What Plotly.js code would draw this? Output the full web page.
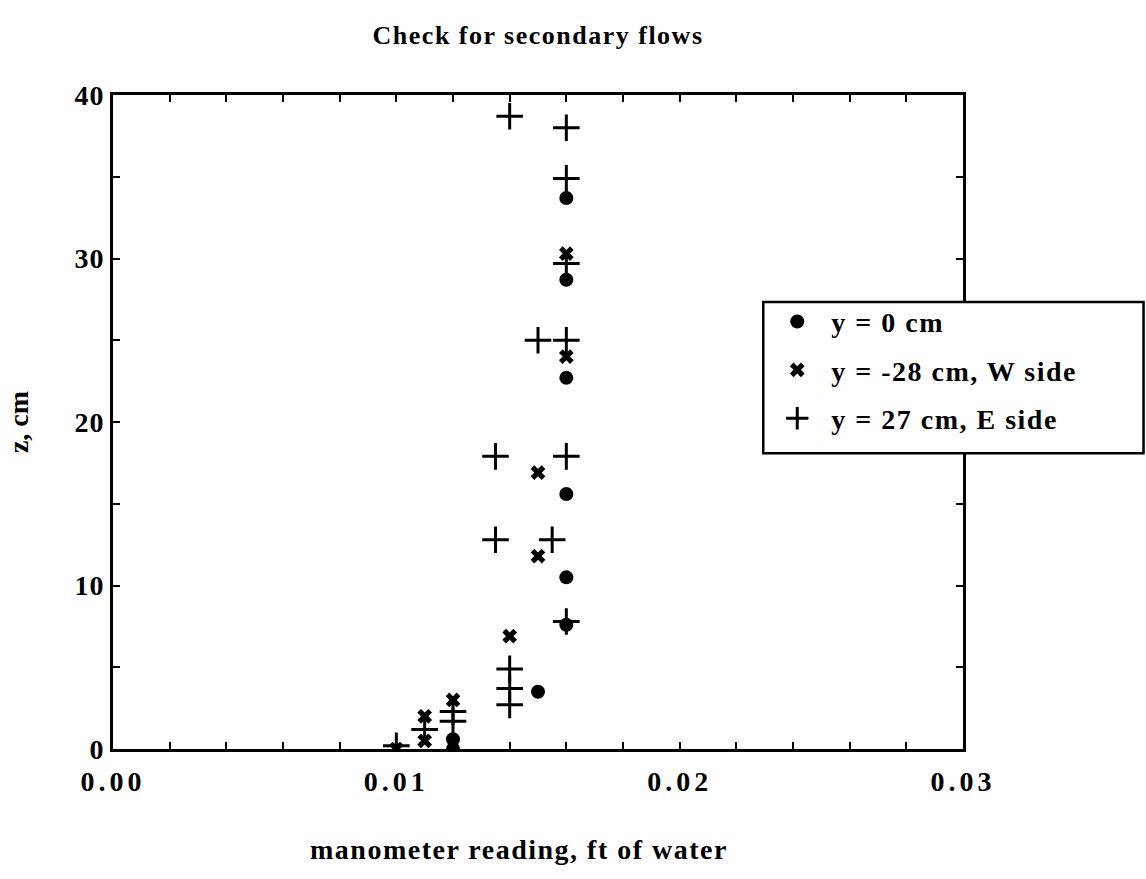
<!DOCTYPE html>
<html>
<head>
<meta charset="utf-8">
<script src="https://cdn.plot.ly/plotly-3.0.1.min.js"></script>
<style>
body{margin:0;background:#fff;}
#chart{width:1146px;height:879px;}
.xtick text{letter-spacing:4px;}
.ytick text{letter-spacing:1px;}
.gtitle{letter-spacing:1.5px;}
.annotation-text{letter-spacing:1.5px;}
.legendtext{letter-spacing:1.5px;}
</style>
</head>
<body>
<div id="chart"></div>
<script>
// y = 0 cm
const centerX = [0.012, 0.012, 0.015, 0.016, 0.016, 0.016, 0.016, 0.016, 0.016];
const centerZ = [0.0, 0.6, 3.5, 7.6, 10.5, 15.6, 22.7, 28.7, 33.7];
// y = -28 cm, W side
const westX = [0.010, 0.011, 0.011, 0.012, 0.014, 0.015, 0.015, 0.016, 0.016];
const westZ = [0.0, 0.5, 2.0, 3.0, 6.9, 11.8, 16.9, 24.0, 30.3];
// y = 27 cm, E side
const eastX = [0.010, 0.011, 0.012, 0.012, 0.014, 0.014, 0.014, 0.016, 0.0135, 0.0155, 0.0135, 0.016, 0.015, 0.016, 0.016, 0.016, 0.016, 0.014];
const eastZ = [0.2, 1.2, 1.7, 2.3, 2.7, 3.7, 4.9, 7.8, 12.8, 12.8, 17.9, 17.9, 25.0, 25.0, 29.7, 34.9, 38.0, 38.7];

const seriesNames = ['y = 0 cm', 'y = -28 cm, W side', 'y = 27 cm, E side'];
const xTickVals = [0, 0.002, 0.004, 0.006, 0.008, 0.01, 0.012, 0.014, 0.016, 0.018, 0.02, 0.022, 0.024, 0.026, 0.028, 0.03];
const xTickText = ['0.00', '', '', '', '', '0.01', '', '', '', '', '0.02', '', '', '', '', '0.03'];
const yTickVals = [0, 5, 10, 15, 20, 25, 30, 35, 40];
const yTickText = ['0', '', '10', '', '20', '', '30', '', '40'];
const xTitle = 'manometer reading, ft of water';
const yTitle = 'z, cm';
const chartTitle = 'Check for secondary flows';

const FONT = 'Liberation Serif, Times New Roman, serif';

const traces = [
  {x: centerX, y: centerZ, name: '<b>' + seriesNames[0] + '</b>', legendgroup: 'a', mode: 'markers', type: 'scatter',
   marker: {symbol: 'circle', size: 14, color: '#000'}},
  {x: westX, y: westZ, name: '<b>' + seriesNames[1] + '</b>', legendgroup: 'b', mode: 'markers', type: 'scatter',
   marker: {symbol: 'x', size: 13, color: '#000', line: {width: 0}}},
  {x: eastX, y: eastZ, name: '<b>' + seriesNames[2] + '</b>', legendgroup: 'c', mode: 'markers', type: 'scatter',
   marker: {symbol: 'cross-thin', size: 19, color: '#000', line: {width: 3, color: '#000'}}}
];

const layout = {
  width: 1146, height: 879,
  paper_bgcolor: '#fff', plot_bgcolor: '#fff',
  margin: {l: 113, r: 183, t: 95, b: 130},
  font: {family: FONT, color: '#000', size: 20},
  title: {text: '<b>' + chartTitle + '</b>', x: 0.4695, xanchor: 'center', y: 0.96, yanchor: 'middle',
          font: {family: FONT, size: 26, color: '#000'}},
  showlegend: true,
  legend: {x: 0.765, y: 0.6915, xanchor: 'left', yanchor: 'top', bgcolor: 'rgba(0,0,0,0)',
           borderwidth: 0, font: {family: FONT, size: 28, color: '#000'},
           tracegroupgap: 9, itemwidth: 58, traceorder: 'grouped'},
  shapes: [
    {type: 'rect', xref: 'paper', yref: 'paper', x0: 0.765, x1: 1.2124, y0: 0.4522, y1: 0.6835,
     fillcolor: '#fff', line: {color: '#000', width: 2.5}, layer: 'above'}
  ],
  annotations: [
    {text: '<b>' + xTitle + '</b>', xref: 'paper', yref: 'paper', x: 0.478, y: -0.154,
     xanchor: 'center', yanchor: 'middle', showarrow: false,
     font: {family: FONT, size: 28, color: '#000'}}
  ],
  xaxis: {
    range: [0, 0.03], autorange: false,
    tickmode: 'array', tickvals: xTickVals, ticktext: xTickText,
    ticks: 'inside', ticklen: 7, tickwidth: 2, tickcolor: '#000',
    showline: true, linecolor: '#000', linewidth: 3, mirror: 'ticks',
    showgrid: false, zeroline: false, ticklabelstandoff: 5,
    tickfont: {family: FONT, size: 28, color: '#000', weight: 'bold'}
  },
  yaxis: {
    range: [0, 40], autorange: false,
    tickmode: 'array', tickvals: yTickVals, ticktext: yTickText,
    ticks: 'inside', ticklen: 7, tickwidth: 2, tickcolor: '#000',
    showline: true, linecolor: '#000', linewidth: 3, mirror: 'ticks',
    showgrid: false, zeroline: false,
    tickfont: {family: FONT, size: 28, color: '#000', weight: 'bold'},
    title: {text: '<b>' + yTitle + '</b>', standoff: 38, font: {family: FONT, size: 28, color: '#000'}}
  }
};

Plotly.newPlot('chart', traces, layout, {displayModeBar: false, responsive: false});
</script>
</body>
</html>
